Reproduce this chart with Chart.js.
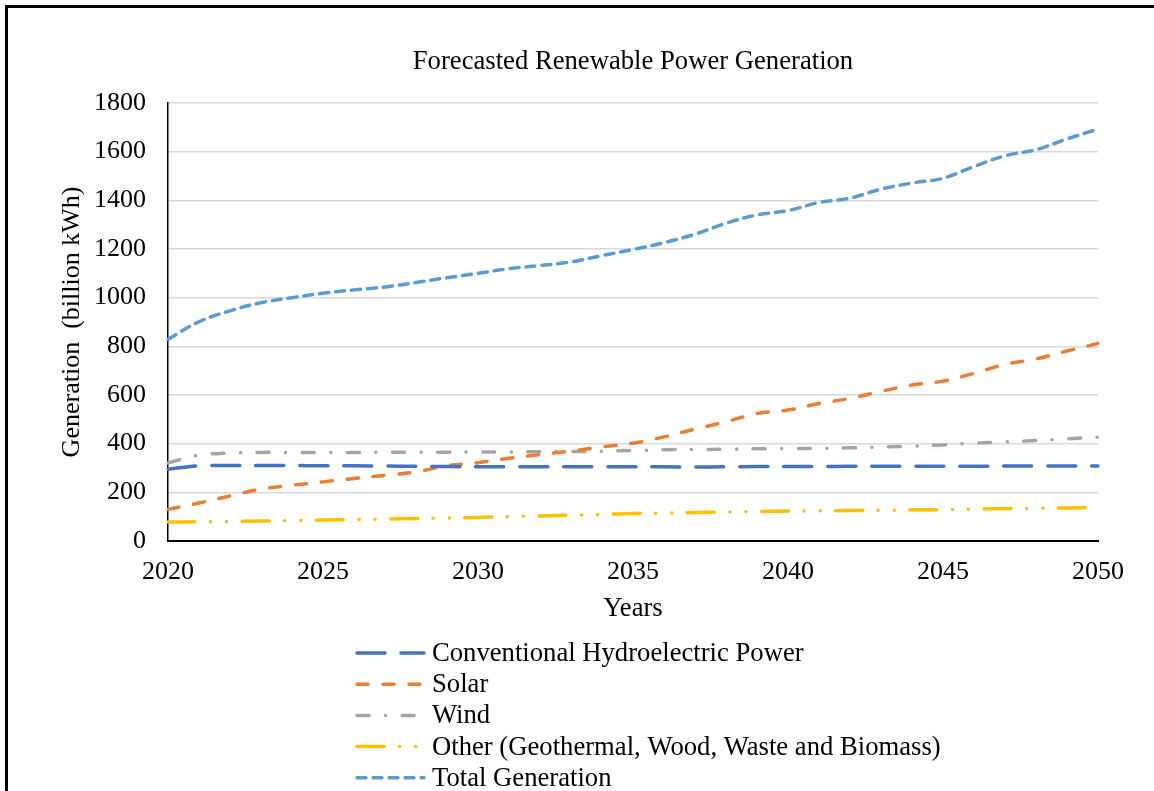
<!DOCTYPE html>
<html>
<head>
<meta charset="utf-8">
<title>Forecasted Renewable Power Generation</title>
<script src="https://cdn.jsdelivr.net/npm/chart.js@4.4.1/dist/chart.umd.min.js"></script>
<style>
  html, body { margin: 0; padding: 0; background: #fff; overflow: hidden; }
  #wrap { position: relative; width: 1154px; height: 791px; }
  #frame { position: absolute; left: 5px; top: 5px; width: 1200px; height: 900px;
           border: 3px solid #000; pointer-events: none; }
</style>
</head>
<body>
<div id="wrap">
  <canvas id="genChart" width="1154" height="791"></canvas>
  <div id="frame"></div>
</div>
<script>
const SERIF = "'Liberation Serif', 'Times New Roman', serif";
const chartTitle = 'Forecasted Renewable Power Generation';

// Years on the x axis (labels shown every 5 years)
const years = [2020, 2021, 2022, 2023, 2024, 2025, 2026, 2027, 2028, 2029,
               2030, 2031, 2032, 2033, 2034, 2035, 2036, 2037, 2038, 2039,
               2040, 2041, 2042, 2043, 2044, 2045, 2046, 2047, 2048, 2049, 2050];

// Generation, billion kWh
const hydro = [295, 309, 310, 310, 310, 309, 309, 308, 307, 306,
               305, 305, 305, 305, 305, 305, 305, 304, 305, 306,
               306, 306, 307, 307, 307, 307, 307, 308, 308, 308, 308];
const solar = [130, 156, 185, 213, 229, 243, 257, 270, 284, 309,
               322, 340, 355, 370, 387, 402, 428, 460, 490, 524,
               538, 565, 586, 615, 641, 657, 689, 726, 748, 781, 812];
const wind = [321, 353, 361, 364, 364, 364, 364, 365, 365, 365,
              366, 366, 367, 368, 369, 372, 375, 376, 377, 379,
              380, 381, 383, 386, 390, 395, 402, 407, 413, 420, 427];
const other = [78, 79, 80, 82, 84, 86, 88, 90, 92, 94,
               97, 100, 103, 106, 109, 113, 115, 117, 119, 121,
               123, 124, 125, 126, 128, 129, 131, 133, 134, 136, 138];
const total = [829, 901, 946, 979, 1000, 1018, 1032, 1044, 1062, 1082,
               1100, 1119, 1132, 1147, 1173, 1198, 1226, 1261, 1306, 1340,
               1358, 1391, 1409, 1446, 1471, 1491, 1539, 1583, 1608, 1652, 1693];

const yMin = 0;
const yMax = 1800;
const yStep = 200;

const seriesNames = [
  'Conventional Hydroelectric Power',
  'Solar',
  'Wind',
  'Other (Geothermal, Wood, Waste and Biomass)',
  'Total Generation'
];

function series(label, data, color, dash) {
  return {
    label: label,
    data: data,
    borderColor: color,
    backgroundColor: color,
    borderWidth: 3.5,
    borderDash: dash,
    borderCapStyle: 'round',
    pointRadius: 0,
    pointHoverRadius: 0,
    tension: 0.4,
    fill: false
  };
}

// Title centred over the plot area rather than the whole canvas
const plotTitle = {
  id: 'plotTitle',
  afterDraw(chart) {
    const ctx = chart.ctx;
    const area = chart.chartArea;
    ctx.save();
    ctx.font = '26.67px ' + SERIF;
    ctx.fillStyle = '#000';
    ctx.textAlign = 'center';
    ctx.textBaseline = 'middle';
    ctx.fillText(chartTitle, (area.left + area.right) / 2, 62);
    ctx.restore();
  }
};

// Legend drawn as a left-aligned column under the axis title
const lineLegend = {
  id: 'lineLegend',
  afterDraw(chart) {
    const ctx = chart.ctx;
    ctx.save();
    ctx.font = '26.67px ' + SERIF;
    ctx.textBaseline = 'middle';
    ctx.textAlign = 'left';
    chart.data.datasets.forEach((ds, i) => {
      const y = 653 + i * 31.2;
      ctx.beginPath();
      ctx.strokeStyle = ds.borderColor;
      ctx.lineWidth = ds.borderWidth;
      ctx.lineCap = 'round';
      ctx.setLineDash(ds.borderDash);
      ctx.moveTo(357, y);
      ctx.lineTo(424, y);
      ctx.stroke();
      ctx.setLineDash([]);
      ctx.fillStyle = '#000';
      ctx.fillText(ds.label, 432, y + 1);
    });
    ctx.restore();
  }
};

const ctx = document.getElementById('genChart').getContext('2d');
new Chart(ctx, {
  type: 'line',
  data: {
    labels: years,
    datasets: [
      series(seriesNames[0], hydro, '#4472C4', [28, 16]),
      series(seriesNames[1], solar, '#ED7D31', [11, 15]),
      series(seriesNames[2], wind, '#A5A5A5', [12, 16.5, 0.1, 16.5]),
      series(seriesNames[3], other, '#FFC000', [27, 15.5, 0.1, 16, 0.1, 15.5]),
      series(seriesNames[4], total, '#5B9BD5', [9, 7])
    ]
  },
  options: {
    responsive: false,
    animation: false,
    events: [],
    layout: { padding: { left: 0, right: 56, top: 103, bottom: 166 } },
    plugins: {
      legend: { display: false },
      tooltip: { enabled: false },
      title: { display: false }
    },
    scales: {
      x: {
        grid: { display: false, drawTicks: false },
        border: { display: true, color: '#000', width: 2 },
        ticks: {
          color: '#000',
          font: { family: SERIF, size: 26 },
          padding: 16,
          autoSkip: false,
          maxRotation: 0,
          callback: function(value, index) {
            return index % 5 === 0 ? this.getLabelForValue(value) : '';
          }
        },
        title: {
          display: true,
          text: 'Years',
          color: '#000',
          font: { family: SERIF, size: 26.67 },
          padding: { top: 6, bottom: 0 }
        },
        afterFit(scale) {
          scale.height = 84;
        }
      },
      y: {
        min: yMin,
        max: yMax,
        grid: { color: '#D9D9D9', lineWidth: 1.5, drawTicks: false },
        border: { display: true, color: '#000', width: 1.5 },
        ticks: {
          stepSize: yStep,
          color: '#000',
          font: { family: SERIF, size: 26 },
          padding: 22,
          callback: (value) => String(value)
        },
        title: {
          display: true,
          text: 'Generation  (billion kWh)',
          color: '#000',
          font: { family: SERIF, size: 26 },
          padding: { top: 57, bottom: 0 }
        },
        afterFit(scale) {
          scale.width = 168;
        }
      }
    }
  },
  plugins: [plotTitle, lineLegend]
});
</script>
</body>
</html>
